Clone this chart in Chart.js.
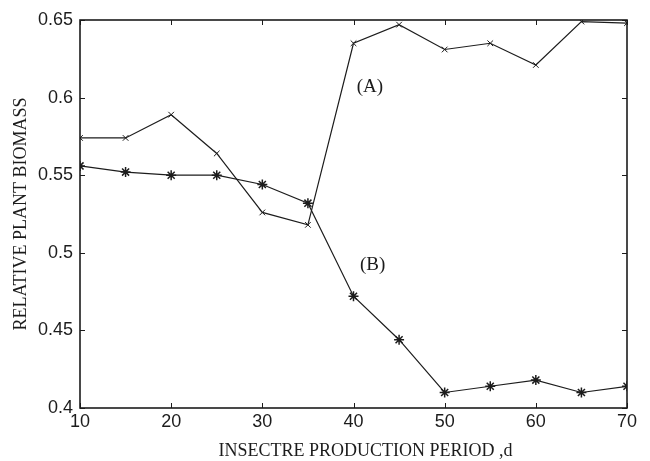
<!DOCTYPE html>
<html>
<head>
<meta charset="utf-8">
<script src="https://cdn.jsdelivr.net/npm/chart.js@4"></script>
<style>
  html, body { margin: 0; padding: 0; background: #fff; }
  #wrap { width: 650px; height: 461px; }
</style>
</head>
<body>
<div id="wrap"><canvas id="c" width="650" height="461"></canvas></div>
<script>
const periods = [10, 15, 20, 25, 30, 35, 40, 45, 50, 55, 60, 65, 70];
const seriesA = [0.574, 0.574, 0.589, 0.564, 0.526, 0.518, 0.635, 0.647, 0.631, 0.635, 0.621, 0.649, 0.648];
const seriesB = [0.556, 0.552, 0.550, 0.550, 0.544, 0.532, 0.472, 0.444, 0.410, 0.414, 0.418, 0.410, 0.414];
const xTicks = [10, 20, 30, 40, 50, 60, 70];
const yTicks = [0.4, 0.45, 0.5, 0.55, 0.6, 0.65];
const xTitle = 'INSECTRE PRODUCTION PERIOD ,d';
const yTitle = 'RELATIVE PLANT BIOMASS';
const curveLabels = [
  { text: '(A)', x: 41.8, y: 0.607 },
  { text: '(B)', x: 42.1, y: 0.492 }
];

const ink = '#1c1c1c';
const serif = '"Liberation Serif", "Times New Roman", serif';
const sans = '"Liberation Sans", Arial, sans-serif';

// frame, inward ticks on all four sides, curve labels, x title
const framePlugin = {
  id: 'frame',
  afterDraw(chart) {
    const { ctx, chartArea: a, scales: { x, y } } = chart;
    const len = 5;
    ctx.save();
    ctx.strokeStyle = ink;
    ctx.lineWidth = 1;
    ctx.beginPath();
    xTicks.forEach(v => {
      const px = Math.round(x.getPixelForValue(v)) + 0.5;
      ctx.moveTo(px, a.bottom); ctx.lineTo(px, a.bottom - len);
      ctx.moveTo(px, a.top); ctx.lineTo(px, a.top + len);
    });
    yTicks.forEach(v => {
      const py = Math.round(y.getPixelForValue(v)) + 0.5;
      ctx.moveTo(a.left, py); ctx.lineTo(a.left + len, py);
      ctx.moveTo(a.right, py); ctx.lineTo(a.right - len, py);
    });
    ctx.stroke();
    ctx.lineWidth = 1.6;
    ctx.strokeRect(a.left, a.top, a.right - a.left, a.bottom - a.top);
    ctx.fillStyle = ink;
    ctx.textAlign = 'center';
    ctx.textBaseline = 'middle';
    ctx.font = '19px ' + serif;
    curveLabels.forEach(l => {
      ctx.fillText(l.text, x.getPixelForValue(l.x), y.getPixelForValue(l.y));
    });
    ctx.font = '18px ' + serif;
    ctx.fillText(xTitle, (a.left + a.right) / 2 + 12, chart.height - 10);
    ctx.restore();
  }
};

new Chart(document.getElementById('c'), {
  type: 'line',
  data: {
    datasets: [{
      label: 'A',
      data: periods.map((p, i) => ({ x: p, y: seriesA[i] })),
      borderColor: ink,
      borderWidth: 1.2,
      pointStyle: 'crossRot',
      pointRadius: 4,
      pointBorderWidth: 1,
      pointBorderColor: ink,
      tension: 0,
      fill: false
    }, {
      label: 'B',
      data: periods.map((p, i) => ({ x: p, y: seriesB[i] })),
      borderColor: ink,
      borderWidth: 1.2,
      pointStyle: 'star',
      pointRadius: 5,
      pointBorderWidth: 1.5,
      pointBorderColor: ink,
      tension: 0,
      fill: false
    }]
  },
  options: {
    responsive: false,
    animation: false,
    devicePixelRatio: 1,
    layout: { padding: { top: 20, right: 23, left: 0, bottom: 0 } },
    plugins: { legend: { display: false }, tooltip: { enabled: false } },
    scales: {
      x: {
        type: 'linear',
        min: 10,
        max: 70,
        afterFit: s => { s.height = 53; },
        afterBuildTicks: s => { s.ticks = xTicks.map(v => ({ value: v })); },
        grid: { display: false, drawTicks: false },
        border: { display: false },
        ticks: { color: ink, font: { family: sans, size: 18 }, padding: 3, maxRotation: 0 }
      },
      y: {
        min: 0.4,
        max: 0.65,
        afterFit: s => { s.width = 80; },
        afterBuildTicks: s => { s.ticks = yTicks.map(v => ({ value: v })); },
        grid: { display: false, drawTicks: false },
        border: { display: false },
        ticks: {
          color: ink,
          font: { family: sans, size: 18 },
          padding: 7,
          callback: v => String(+v.toFixed(2))
        },
        title: {
          display: true,
          text: yTitle,
          color: ink,
          font: { family: serif, size: 18 },
          padding: { top: 10, bottom: 0 }
        }
      }
    }
  },
  plugins: [framePlugin]
});
</script>
</body>
</html>
